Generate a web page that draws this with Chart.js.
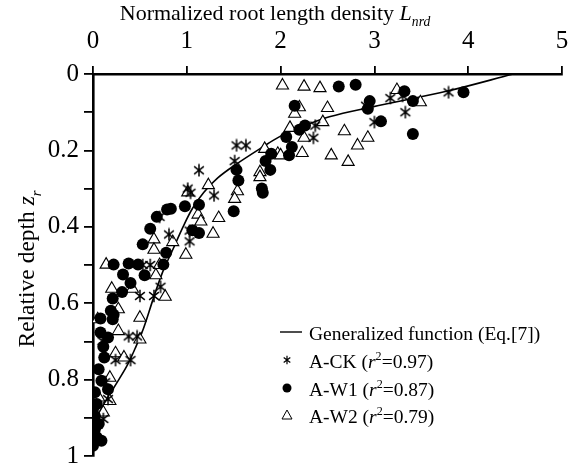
<!DOCTYPE html>
<html>
<head>
<meta charset="utf-8">
<script src="https://cdn.jsdelivr.net/npm/chart.js@4/dist/chart.umd.min.js"></script>
<style>
	html, body { margin: 0; padding: 0; background: #fff; }
</style>
</head>
<body>
<canvas id="depth-chart" width="579" height="466"></canvas>
<script>
	'use strict';

	// Tick labels.
	const xTickLabels = ['0', '1', '2', '3', '4', '5'];
	const yTickLabels = ['0', '0.2', '0.4', '0.6', '0.8', '1'];

	// Generalized function (Eq.[7]).
	const curveL = [4.48, 3.79, 2.98, 2.52, 2.20, 1.99, 1.81, 1.51, 1.33, 1.18, 1.06, 0.96, 0.85, 0.74, 0.64, 0.54, 0.45, 0.36, 0.22, 0.12, 0.05, 0.01];
	const curveZ = [0, 0.044, 0.086, 0.112, 0.141, 0.164, 0.191, 0.239, 0.272, 0.310, 0.352, 0.400, 0.460, 0.520, 0.590, 0.665, 0.718, 0.765, 0.822, 0.862, 0.895, 0.930];

	// A-CK.
	const ckL = [3.79, 3.30, 3.17, 2.91, 3.33, 3.00, 2.37, 2.35, 1.53, 1.63, 1.51, 1.13, 1.01, 1.04, 1.29, 0.71, 1.03, 0.81, 1.03, 0.53, 0.61, 0.72, 0.50, 0.65, 0.38, 0.47, 0.10, 0.24, 0.40, 0.13, 0.16, 0.11];
	const ckZ = [0.048, 0.057, 0.063, 0.083, 0.100, 0.126, 0.135, 0.167, 0.187, 0.187, 0.228, 0.252, 0.300, 0.311, 0.318, 0.374, 0.410, 0.420, 0.438, 0.500, 0.500, 0.557, 0.581, 0.581, 0.687, 0.687, 0.699, 0.749, 0.749, 0.807, 0.851, 0.903];

	// A-W1.
	const w1L = [2.80, 2.62, 3.32, 3.95, 2.95, 3.41, 2.15, 2.93, 3.07, 2.26, 2.20, 3.41, 2.06, 2.12, 1.90, 2.09, 1.84, 1.89, 1.53, 1.55, 1.80, 1.81, 1.13, 0.98, 0.83, 0.79, 1.50, 0.68, 0.61, 1.06, 1.13, 0.53, 0.78, 0.22, 0.38, 0.48, 0.75, 0.32, 0.55, 0.40, 0.31, 0.21, 0.19, 0.22, 0.08, 0.21, 0.08, 0.16, 0.11, 0.12, 0.06, 0.09, 0.16, 0.02, 0.04, 0.00, 0.02, 0.06, 0.02, 0.04, 0.09, 0.00];
	const w1Z = [0.028, 0.033, 0.045, 0.048, 0.071, 0.071, 0.083, 0.091, 0.124, 0.135, 0.146, 0.157, 0.165, 0.191, 0.209, 0.213, 0.228, 0.251, 0.251, 0.279, 0.300, 0.311, 0.342, 0.346, 0.353, 0.355, 0.359, 0.374, 0.405, 0.409, 0.416, 0.446, 0.468, 0.499, 0.496, 0.499, 0.499, 0.525, 0.527, 0.547, 0.571, 0.588, 0.620, 0.630, 0.640, 0.642, 0.677, 0.690, 0.714, 0.742, 0.773, 0.803, 0.825, 0.833, 0.864, 0.877, 0.895, 0.916, 0.930, 0.951, 0.960, 0.973];

	// A-W2.
	const w2L = [2.02, 2.25, 2.42, 3.24, 3.49, 2.20, 2.50, 2.15, 2.45, 2.10, 2.68, 2.25, 2.93, 2.82, 1.83, 2.23, 1.97, 2.00, 2.54, 2.72, 1.78, 1.78, 1.23, 1.01, 1.54, 1.51, 1.12, 1.34, 1.15, 1.28, 0.65, 0.85, 0.65, 0.99, 0.14, 0.71, 0.67, 0.20, 0.42, 0.77, 0.27, 0.50, 0.05, 0.27, 0.50, 0.24, 0.33, 0.18, 0.06, 0.18, 0.11];
	const w2Z = [0.030, 0.033, 0.037, 0.042, 0.074, 0.087, 0.089, 0.104, 0.126, 0.141, 0.150, 0.167, 0.167, 0.187, 0.196, 0.207, 0.209, 0.213, 0.213, 0.230, 0.257, 0.270, 0.291, 0.310, 0.307, 0.327, 0.368, 0.377, 0.386, 0.418, 0.433, 0.440, 0.460, 0.473, 0.499, 0.500, 0.527, 0.562, 0.562, 0.583, 0.616, 0.638, 0.642, 0.673, 0.695, 0.731, 0.742, 0.795, 0.847, 0.856, 0.886];

	const FONT = '"Liberation Serif", serif';

	Chart.defaults.font.family = FONT;
	Chart.defaults.color = '#000';

	function toPoints(xs, ys) {
		return xs.map(function(x, i) {
			return { x: x, y: ys[i] };
		});
	}

	/**
	 * Six-armed asterisk marker for A-CK.
	 */
	function makeStar(size, lw) {
		const c = document.createElement('canvas');
		c.width = size;
		c.height = size;
		const g = c.getContext('2d');
		const m = size / 2;
		const r = m - 0.8;
		g.strokeStyle = '#000';
		g.lineWidth = lw;
		g.beginPath();
		[90, 38, 142].forEach(function(deg) {
			const a = deg * Math.PI / 180;
			g.moveTo(m + Math.cos(a) * r, m - Math.sin(a) * r);
			g.lineTo(m - Math.cos(a) * r, m + Math.sin(a) * r);
		});
		g.stroke();
		return c;
	}

	// Draw a run of text pieces (italic, sub/superscript) from x.
	function drawRich(ctx, x, y, parts, size) {
		parts.forEach(function(p) {
			const fs = (p.sub || p.sup) ? size * 0.62 : size;
			ctx.font = (p.it ? 'italic ' : '') + fs + 'px ' + FONT;
			const dy = p.sub ? size * 0.28 : (p.sup ? -size * 0.42 : 0);
			ctx.fillText(p.t, x, y + dy);
			x += ctx.measureText(p.t).width;
		});
		return x;
	}

	function richWidth(ctx, parts, size) {
		let w = 0;
		parts.forEach(function(p) {
			const fs = (p.sub || p.sup) ? size * 0.62 : size;
			ctx.font = (p.it ? 'italic ' : '') + fs + 'px ' + FONT;
			w += ctx.measureText(p.t).width;
		});
		return w;
	}

	// Pin the plot box: no extra room for tick labels hanging past the ends.
	function noOverhang(scale) {
		scale.paddingLeft = 0;
		scale.paddingRight = 0;
		scale.paddingTop = 0;
		scale.paddingBottom = 0;
	}

	function drawChart() {
		const starBig = makeStar(14, 1.5);
		const starSmall = makeStar(10, 1.2);

		// Axis titles and the in-plot legend.
		const decorPlugin = {
			id: 'decor',
			afterDraw: function(chart) {
				const ctx = chart.ctx;
				ctx.save();
				ctx.fillStyle = '#000';
				ctx.strokeStyle = '#000';
				ctx.textBaseline = 'alphabetic';
				ctx.textAlign = 'left';

				// Top axis title.
				const xTitle = [
					{ t: 'Normalized root length density ' },
					{ t: 'L', it: true },
					{ t: 'nrd', it: true, sub: true }
				];
				const xw = richWidth(ctx, xTitle, 22);
				drawRich(ctx, 275 - xw / 2, 20, xTitle, 22);

				// Left axis title.
				const yTitle = [
					{ t: 'Relative depth ' },
					{ t: 'z', it: true },
					{ t: 'r', it: true, sub: true }
				];
				const yw = richWidth(ctx, yTitle, 23.5);
				ctx.save();
				ctx.translate(34, 269);
				ctx.rotate(-Math.PI / 2);
				drawRich(ctx, -yw / 2, 0, yTitle, 23.5);
				ctx.restore();

				// Legend.
				const lx = 309;
				const size = 19.5;
				ctx.lineWidth = 1.4;
				ctx.beginPath();
				ctx.moveTo(280, 332);
				ctx.lineTo(302, 332);
				ctx.stroke();
				drawRich(ctx, lx, 340, [{ t: 'Generalized function (Eq.[7])' }], size);

				ctx.drawImage(starSmall, 287 - 5, 360 - 5);
				drawRich(ctx, lx, 368, [{ t: 'A-CK (' }, { t: 'r', it: true }, { t: '2', sup: true }, { t: '=0.97)' }], size);

				ctx.beginPath();
				ctx.arc(287, 388, 4.5, 0, Math.PI * 2);
				ctx.fill();
				drawRich(ctx, lx, 396, [{ t: 'A-W1 (' }, { t: 'r', it: true }, { t: '2', sup: true }, { t: '=0.87)' }], size);

				ctx.lineWidth = 1;
				ctx.beginPath();
				ctx.moveTo(287, 410);
				ctx.lineTo(292, 419);
				ctx.lineTo(282, 419);
				ctx.closePath();
				ctx.stroke();
				drawRich(ctx, lx, 423, [{ t: 'A-W2 (' }, { t: 'r', it: true }, { t: '2', sup: true }, { t: '=0.79)' }], size);

				ctx.restore();
			}
		};

		const tickFont = { family: FONT, size: 25, style: 'normal', weight: 'normal' };

		const ctx = document.getElementById('depth-chart').getContext('2d');
		new Chart(ctx, {
			type: 'scatter',
			data: {
				datasets: [
					{
						label: 'A-CK',
						data: toPoints(ckL, ckZ),
						pointStyle: starBig,
						pointRadius: 7
					},
					{
						label: 'A-W1',
						data: toPoints(w1L, w1Z),
						pointStyle: 'circle',
						pointRadius: 6,
						backgroundColor: '#000',
						borderColor: '#000',
						borderWidth: 0
					},
					{
						label: 'A-W2',
						data: toPoints(w2L, w2Z),
						pointStyle: 'triangle',
						pointRadius: 7,
						backgroundColor: '#fff',
						borderColor: '#000',
						borderWidth: 1.1
					},
					{
						label: 'Generalized function (Eq.[7])',
						data: toPoints(curveL, curveZ),
						showLine: true,
						pointRadius: 0,
						borderColor: '#000',
						borderWidth: 1.6,
						tension: 0.35
					}
				]
			},
			options: {
				responsive: false,
				animation: false,
				layout: {
					padding: { left: 0, top: 0, right: 17, bottom: 10 }
				},
				plugins: {
					legend: { display: false },
					tooltip: { enabled: false }
				},
				scales: {
					x: {
						type: 'linear',
						position: 'top',
						min: 0,
						max: 5,
						afterFit: function(scale) {
							scale.height = 74;
							noOverhang(scale);
						},
						grid: {
							drawOnChartArea: false,
							drawTicks: true,
							tickLength: 8,
							color: '#000',
							lineWidth: 1.8
						},
						border: { display: true, color: '#000', width: 2.6 },
						ticks: {
							stepSize: 1,
							padding: 10,
							color: '#000',
							font: tickFont,
							callback: function(value) {
								return xTickLabels[Math.round(value)];
							}
						}
					},
					y: {
						type: 'linear',
						reverse: true,
						min: 0,
						max: 1,
						afterFit: function(scale) {
							scale.width = 93;
							noOverhang(scale);
						},
						grid: {
							drawOnChartArea: false,
							drawTicks: true,
							tickLength: 9,
							color: '#000',
							lineWidth: 1.8
						},
						border: { display: true, color: '#000', width: 2.6 },
						ticks: {
							stepSize: 0.1,
							padding: 5,
							color: '#000',
							font: tickFont,
							callback: function(value) {
								const v = Math.round(value * 10);
								return v % 2 === 0 ? yTickLabels[v / 2] : '';
							}
						}
					}
				}
			},
			plugins: [decorPlugin]
		});
	}

	// Make sure the serif face is ready before the canvas draws text.
	Promise.all([
		document.fonts.load('25px "Liberation Serif"'),
		document.fonts.load('italic 22px "Liberation Serif"')
	]).then(drawChart, drawChart);
</script>
</body>
</html>
